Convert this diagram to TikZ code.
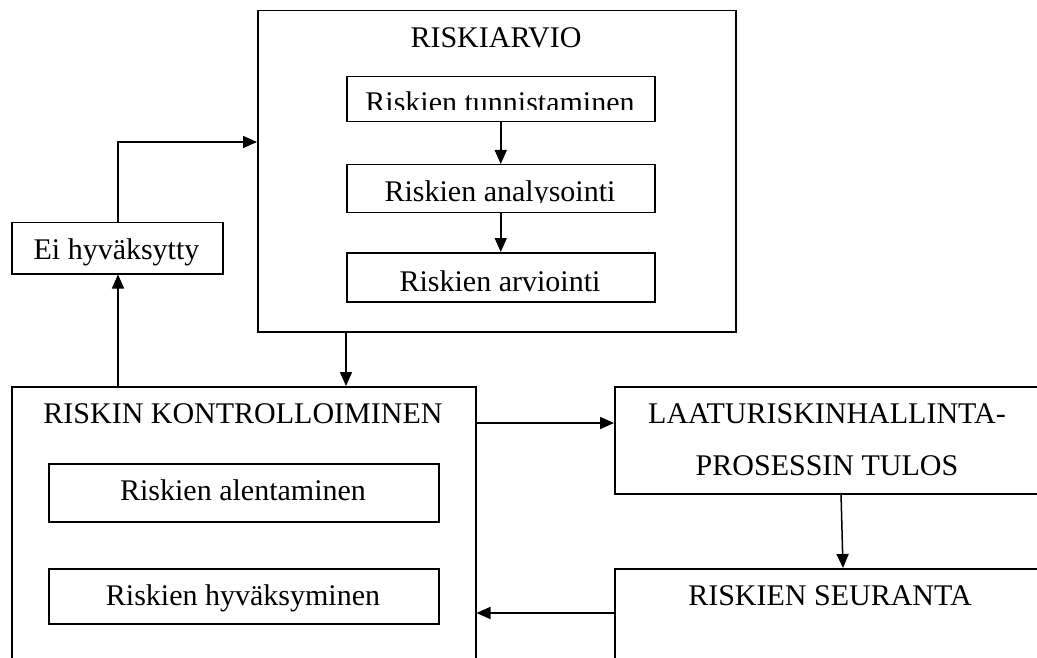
\documentclass[tikz,border=0pt]{standalone}
\usepackage{fontspec}
\setmainfont{Liberation Serif}
\usetikzlibrary{arrows.meta}
\tikzset{
  box/.style={draw, line width=1.5pt, rectangle, inner sep=0pt, anchor=north west},
  txt/.style={inner sep=0pt, anchor=base, font=\fontsize{30}{36}\selectfont},
  arr/.style={line width=1.5pt, -{Triangle[length=14pt,width=12pt]}},
  ln/.style={line width=1.5pt}
}
\begin{document}
\begin{tikzpicture}[x=1pt,y=-1pt]
\useasboundingbox (0,0) rectangle (1037,658);
\fill[white] (0,0) rectangle (1037,658);
\begin{scope}
\clip (0,0) rectangle (1037,658);
% boxes
\node[box, minimum width=478pt, minimum height=321pt] (arvio) at (257,10) {};
\node[box, minimum width=308pt, minimum height=45pt] (b1) at (346,76) {};
\node[box, minimum width=308pt, minimum height=48pt] (b2) at (346,164) {};
\node[box, minimum width=308pt, minimum height=49pt] (b3) at (346,252) {};
\node[box, minimum width=211pt, minimum height=51pt] (ei) at (11,222) {};
\node[box, minimum width=464pt, minimum height=320pt] (kontrolli) at (11,386) {};
\node[box, minimum width=390pt, minimum height=58pt] (alen) at (48,463) {};
\node[box, minimum width=390pt, minimum height=55pt] (hyva) at (48,568) {};
\node[box, minimum width=480pt, minimum height=107pt] (laatu) at (614,386) {};
\node[box, minimum width=480pt, minimum height=140pt] (seur) at (614,568) {};
% texts
\node[txt] (tarvio) at (496,48) {RISKIARVIO};
\begin{scope}
\clip (346,76) rectangle (654,110);
\node[txt] (t1) at (500,113) {Riskien tunnistaminen};
\end{scope}
\begin{scope}
\clip (346,164) rectangle (654,203);
\node[txt] (t2) at (500,202) {Riskien analysointi};
\end{scope}
\node[txt] (t3) at (500,291) {Riskien arviointi};
\node[txt] (tei) at (116.5,259) {Ei hyväksytty};
\node[txt] (tkon) at (243,423) {RISKIN KONTROLLOIMINEN};
\node[txt] (talen) at (243,500) {Riskien alentaminen};
\node[txt] (thyva) at (243,605) {Riskien hyväksyminen};
\node[txt] (tl1) at (827,423) {LAATURISKINHALLINTA-};
\node[txt] (tl2) at (827,475) {PROSESSIN TULOS};
\node[txt] (tseur) at (830,605) {RISKIEN SEURANTA};
% connectors
\draw[arr] (b1.south) -- (b2.north);
\draw[arr] (b2.south) -- (b3.north);
\coordinate (inA) at (257,142);
\coordinate (outE) at (118,222);
\draw[arr] (outE) |- (inA);
\draw[arr] (kontrolli.north -| outE) -- (ei.south -| outE);
\draw[arr] (b3.south west |- arvio.south) -- (b3.south west |- kontrolli.north);
\coordinate (kOut) at (475,423);
\draw[arr] (kOut) -- (laatu.west |- kOut);
\coordinate (lOut) at (841,493);
\coordinate (sIn) at (843,568);
\draw[arr] (lOut) -- (sIn);
\coordinate (sOut) at (614,613);
\draw[arr] (sOut) -- (kontrolli.east |- sOut);
\end{scope}
\end{tikzpicture}
\end{document}
